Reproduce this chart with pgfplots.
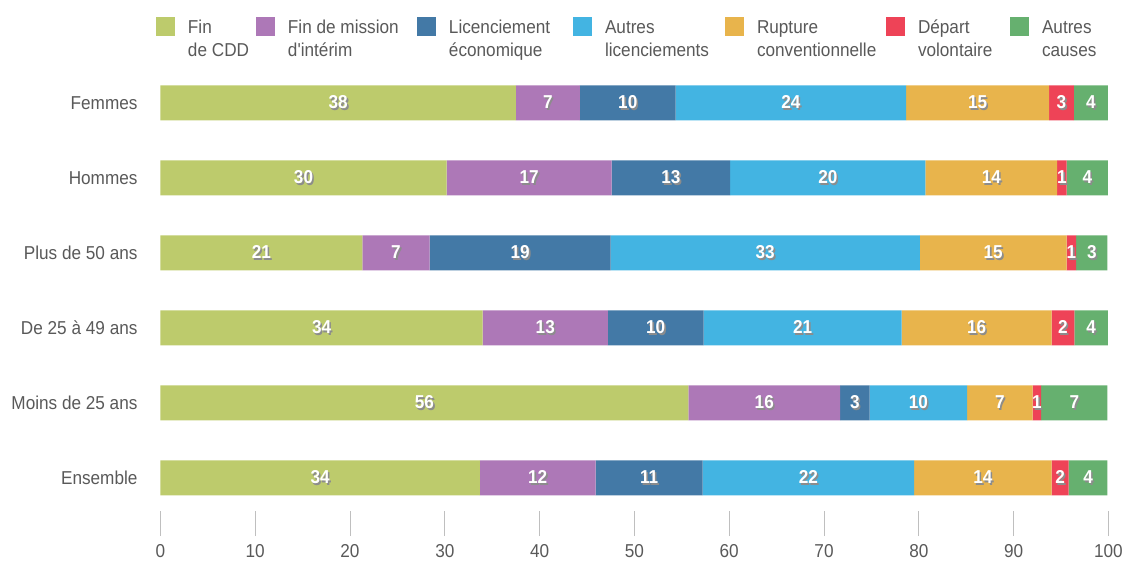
\documentclass[border=0pt]{standalone}
\usepackage{fontspec}
\setmainfont{Liberation Sans}[FakeStretch=0.92]
\newfontfamily\plainfont{Liberation Sans}[FakeStretch=0.92]
\usepackage{pgfplots}
\pgfplotsset{compat=1.18}

\definecolor{cdd}{HTML}{BDCB6C}
\definecolor{interim}{HTML}{AD78B7}
\definecolor{liceco}{HTML}{4379A6}
\definecolor{autreslic}{HTML}{43B4E2}
\definecolor{rupture}{HTML}{E8B44C}
\definecolor{depart}{HTML}{EE4357}
\definecolor{autres}{HTML}{66B06F}
\definecolor{txt}{HTML}{595959}

% white figure with a soft dark shadow
\newcommand\lbl[1]{\makebox[0pt][l]{\raisebox{-1.2pt}{\kern1.2pt\textcolor{black!45}{#1}}}\textcolor{white}{#1}}
% two-line legend text in a box of fixed width
\newcommand\two[3]{\makebox[#1][l]{\begin{tabular}[t]{@{}l@{}}#2\\#3\end{tabular}}}

\begin{document}
\begin{tikzpicture}
\useasboundingbox (-120.3pt,-18pt) rectangle (721.95pt,402pt);
\begin{axis}[
  xbar stacked,
  bar width=26.25pt,
  scale only axis,
  width=711pt, height=352.9pt,
  xmin=0, xmax=100,
  ymin=-0.7733, ymax=5.5,
  axis lines*=left,
  axis line style={draw=none},
  tick align=inside,
  major tick length=18.75pt,
  xtick={0,10,...,100},
  x tick style={draw=black!25, line width=0.75pt},
  y tick style={draw=none},
  ytick={0,...,5},
  yticklabels={Ensemble, Moins de 25 ans, De 25 à 49 ans, Plus de 50 ans, Hommes, Femmes},
  yticklabel style={inner sep=0pt, xshift=-17pt, font=\fontsize{14}{16}\selectfont, text=txt},
  xticklabel style={inner sep=0pt, yshift=-6.5pt, font=\fontsize{14}{16}\selectfont, text=txt},
  /pgf/number format/assume math mode=true,
  point meta=explicit symbolic,
  nodes near coords={\lbl{\pgfplotspointmeta}},
  every node near coord/.append style={anchor=center, inner sep=0pt,
    font=\fontsize{14}{16}\selectfont\bfseries},
  legend columns=7,
  legend cell align=left,
  legend image code/.code={\fill[#1] (0pt,-1.5pt) rectangle (14.25pt,12.75pt);},
  legend style={at={(0,1)}, anchor=north west, xshift=-3.3pt, yshift=36.4pt,
    draw=none, inner sep=0pt, outer sep=0pt,
    font=\fontsize{14}{17.25}\selectfont, text=txt,
    nodes={inner sep=0pt},
    cells={anchor=base west},
    /tikz/every odd column/.append style={column sep=9.75pt},
    /tikz/every even column/.append style={column sep=0pt}},
]
\addplot[fill=cdd, draw=none] coordinates
  {(37.5,5) [38] (30.2,4) [30] (21.3,3) [21] (34.0,2) [34] (55.7,1) [56] (33.7,0) [34]};
\addlegendentry{\two{51pt}{Fin}{de CDD}}
\addplot[fill=interim, draw=none] coordinates
  {(6.75,5) [7] (17.4,4) [17] (7.1,3) [7] (13.2,2) [13] (16.0,1) [16] (12.2,0) [12]};
\addlegendentry{\two{96.75pt}{Fin de mission}{\plainfont d'intérim}}
\addplot[fill=liceco, draw=none] coordinates
  {(10.1,5) [10] (12.5,4) [13] (19.1,3) [19] (10.1,2) [10] (3.1,1) [3] (11.3,0) [11]};
\addlegendentry{\two{93pt}{Licenciement}{économique}}
\addplot[fill=autreslic, draw=none] coordinates
  {(24.3,5) [24] (20.6,4) [20] (32.6,3) [33] (20.9,2) [21] (10.3,1) [10] (22.3,0) [22]};
\addlegendentry{\two{90pt}{Autres}{licenciements}}
\addplot[fill=rupture, draw=none] coordinates
  {(15.1,5) [15] (13.9,4) [14] (15.5,3) [15] (15.8,2) [16] (6.9,1) [7] (14.5,0) [14]};
\addlegendentry{\two{96.75pt}{Rupture}{conventionnelle}}
\addplot[fill=depart, draw=none] coordinates
  {(2.6,5) [3] (1.0,4) [1] (1.0,3) [1] (2.4,2) [2] (0.9,1) [1] (1.8,0) [2]};
\addlegendentry{\two{69pt}{Départ}{volontaire}}
\addplot[fill=autres, draw=none] coordinates
  {(3.6,5) [4] (4.35,4) [4] (3.3,3) [3] (3.55,2) [4] (7.0,1) [7] (4.1,0) [4]};
\addlegendentry{\two{45pt}{Autres}{causes}}
\end{axis}
\end{tikzpicture}
\end{document}
